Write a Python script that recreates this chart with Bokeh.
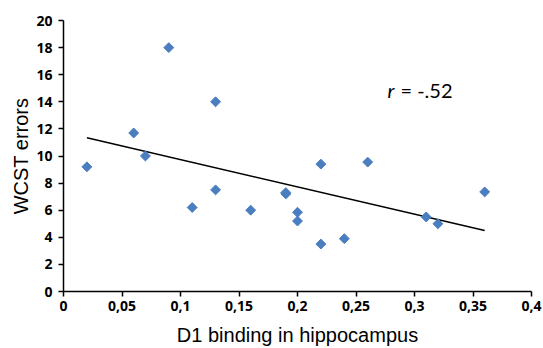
from bokeh.plotting import figure
from bokeh.models import Range1d, FixedTicker, Label, ColumnDataSource
from bokeh.embed import file_html
from bokeh.resources import INLINE
import math

# Data
d1_binding = [0.02, 0.06, 0.07, 0.09, 0.11, 0.13, 0.13, 0.16, 0.19, 0.19,
              0.20, 0.20, 0.22, 0.22, 0.24, 0.26, 0.31, 0.32, 0.36]
wcst_errors = [9.2, 11.7, 10.0, 18.0, 6.2, 14.0, 7.5, 6.0, 7.3, 7.2,
               5.85, 5.2, 9.4, 3.5, 3.9, 9.55, 5.5, 5.0, 7.35]
trend_x = [0.02, 0.36]
trend_y = [11.35, 4.5]
x_ticks = [0, 0.05, 0.1, 0.15, 0.2, 0.25, 0.3, 0.35, 0.4]
x_tick_labels = ["0", "0,05", "0,1", "0,15", "0,2", "0,25", "0,3", "0,35", "0,4"]
y_ticks = [0, 2, 4, 6, 8, 10, 12, 14, 16, 18, 20]
r_label = "= -.52"

p = figure(width=543, height=348,
           output_backend="svg", toolbar_location=None,
           x_range=Range1d(0, 0.4), y_range=Range1d(0, 20),
           min_border_left=63, min_border_right=12, min_border_top=20, min_border_bottom=56)
p.outline_line_color = None
p.grid.visible = False
p.background_fill_color = "white"
p.border_fill_color = "white"

src = ColumnDataSource(dict(x=d1_binding, y=wcst_errors))
p.line(trend_x, trend_y, line_color="black", line_width=1.5)
p.scatter("x", "y", source=src, marker="square", size=7, angle=math.pi / 4,
          fill_color="#4a7ebf", line_color="#4a7ebf")

for ax in (p.xaxis[0], p.yaxis[0]):
    ax.axis_line_color = "black"
    ax.axis_line_width = 1.5
    ax.major_tick_line_color = "black"
    ax.major_tick_line_width = 1.5
    ax.major_tick_out = 5
    ax.major_tick_in = 0
    ax.minor_tick_line_color = None
    ax.major_label_text_font = "Open Sans"
    ax.major_label_text_font_style = "bold"
    ax.major_label_text_font_size = "14px"
    ax.major_label_text_color = "black"
    ax.axis_label_text_font = "Liberation Sans"
    ax.axis_label_text_font_style = "normal"
    ax.axis_label_text_font_size = "20px"
    ax.axis_label_text_color = "black"

p.xaxis[0].ticker = FixedTicker(ticks=x_ticks)
p.xaxis[0].major_label_overrides = {t: l for t, l in zip(x_ticks, x_tick_labels)}
p.xaxis[0].major_label_standoff = 4
p.yaxis[0].ticker = FixedTicker(ticks=y_ticks)
p.yaxis[0].major_label_standoff = 6
p.xaxis[0].axis_label = "D1 binding in hippocampus"
p.yaxis[0].axis_label = "WCST errors"
p.xaxis[0].axis_label_standoff = 10
p.yaxis[0].axis_label_standoff = 1

p.add_layout(Label(x=0.277, y=14.85, text="r", text_font="Lato", text_font_style="italic",
                   text_font_size="20px", text_color="black", text_baseline="alphabetic"))
p.add_layout(Label(x=0.288, y=14.85, text=r_label, text_font="Lato",
                   text_font_size="20px", text_color="black", text_baseline="alphabetic"))

open("out.html", "w").write(file_html(p, INLINE))
